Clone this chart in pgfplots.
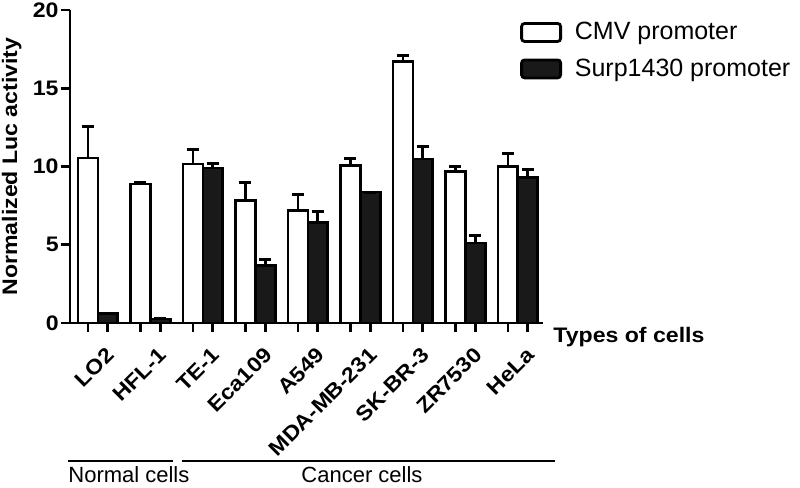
\documentclass[border=0pt]{standalone}
\usepackage{pgfplots}
\usepackage{pgfplotstable}
\pgfplotsset{compat=1.18}
\usepackage{fontspec}
\setmainfont{Liberation Sans}
\newfontfamily\wideb{Liberation Sans Bold}[FakeStretch=1.1]
\pgfplotstableread{
x cmv cmve surp surpe
0 10.55 2.00 0.60 0.00
1 8.87 0.12 0.26 0.00
2 10.17 0.90 9.90 0.26
3 7.83 1.12 3.68 0.36
4 7.17 1.04 6.43 0.70
5 10.06 0.46 8.36 0.00
6 16.70 0.38 10.47 0.82
7 9.68 0.33 5.10 0.47
8 10.00 0.84 9.30 0.48
}\data
\begin{document}
\begin{tikzpicture}
\useasboundingbox (-35pt,-82.5pt) rectangle (365pt,161.5pt);
\begin{axis}[
  at={(0pt,0pt)}, anchor=south west,
  width=236.5pt, height=156.5pt, scale only axis,
  xmin=-0.53, xmax=8.48, ymin=0, ymax=20,
  clip=false,
  separate axis lines,
  axis x line=bottom, axis y line=left,
  axis line style={line width=1.3pt, -},
  ytick={0,5,10,15,20},
  xtick={-0.19,0.19,0.81,1.19,1.81,2.19,2.81,3.19,3.81,4.19,4.81,5.19,5.81,6.19,6.81,7.19,7.81,8.19},
  xticklabels={},
  extra x ticks={0,1,2,3,4,5,6,7,8},
  extra x tick labels={LO2,HFL-1,TE-1,Eca109,A549,MDA-MB-231,SK-BR-3,ZR7530,HeLa},
  extra x tick style={major tick length=0pt, tick style={draw=none},
    xticklabel style={xshift=3.75pt, yshift=-10pt, rotate=45, anchor=north east, inner sep=1pt, font=\wideb\fontsize{10.5}{12}\selectfont}},
  tick align=outside, major tick length=4.5pt,
  tick style={line width=1.3pt, black},
  /pgf/number format/assume math mode=true,
  yticklabel style={font=\wideb\fontsize{10.5}{12}\selectfont, inner sep=1pt},
  ylabel={Normalized Luc activity},
  ylabel style={at={(axis description cs:-0.123,0.5)}, anchor=center, font=\wideb\fontsize{10.5}{12}\selectfont},
  legend cell align=left,
  legend style={at={(0.951,0.975)}, anchor=north west, draw=none, fill=none,
    font=\fontsize{12.5}{14}\selectfont, row sep=4pt, inner sep=0pt},
  ybar, bar width=0.38,
]
\addplot[draw=black, fill=white, line width=1.3pt, bar shift=-0.19,
  legend image code/.code={\draw[line width=1.4pt, rounded corners=1.5pt, draw=black, fill=white] (0pt,-4.5pt) rectangle (19.5pt,4.5pt); \path (24pt,0pt);},
  error bars/.cd, y dir=plus, y explicit,
  error bar style={line width=1.3pt, black},
  error mark options={rotate=90, mark size=3pt, line width=1.5pt, black}]
  table[x=x, y=cmv, y error=cmve] {\data};
\addlegendentry{CMV promoter}
\addplot[draw=black, fill=black!90, line width=1.3pt, bar shift=0.19,
  legend image code/.code={\draw[line width=1.4pt, rounded corners=1.5pt, draw=black, fill=black!90] (0pt,-4.5pt) rectangle (19.5pt,4.5pt); \path (24pt,0pt);},
  error bars/.cd, y dir=plus, y explicit,
  error bar style={line width=1.3pt, black},
  error mark options={rotate=90, mark size=3pt, line width=1.5pt, black}]
  table[x=x, y=surp, y error=surpe] {\data};
\addlegendentry{Surp1430 promoter}
\end{axis}
\node[anchor=base west, inner sep=0pt, font=\wideb\fontsize{10.5}{12}\selectfont] at (241.5pt,-9.5pt) {Types of cells};
\draw[line width=1.4pt] (-1pt,-69pt) -- (51.5pt,-69pt);
\draw[line width=1.4pt] (56pt,-69pt) -- (242.5pt,-69pt);
\node[anchor=base west, inner sep=0pt, font=\fontsize{11}{13}\selectfont] at (-1pt,-79.5pt) {Normal cells};
\node[anchor=base, inner sep=0pt, font=\fontsize{11}{13}\selectfont] at (146pt,-79.5pt) {Cancer cells};
\end{tikzpicture}
\end{document}
